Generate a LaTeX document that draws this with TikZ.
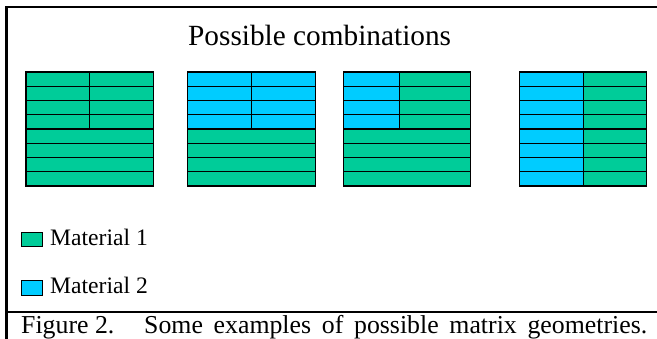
\documentclass[tikz,border=0pt]{standalone}
\usepackage{fontspec}
\setmainfont{Liberation Serif}
\usetikzlibrary{positioning}
\definecolor{matone}{RGB}{0,204,153}
\definecolor{mattwo}{RGB}{0,204,255}
\newcommand{\titlesize}{\fontsize{29.3}{34}\selectfont}
\newcommand{\textsize}{\fontsize{23.6}{28}\selectfont}
\newcommand{\capsize}{\fontsize{25.8}{30}\selectfont}

\begin{document}
\begin{tikzpicture}[x=1pt,y=-1pt,
	cell/.style={draw=black,line width=1.1pt},
	frame/.style={line width=2.2pt},
	every node/.style={inner sep=0pt}]
			\useasboundingbox (0,0) rectangle (657,339);
			\draw [frame] (657,7) -- (6.5,7) -- (6.5,339);
			\draw [frame] (6.5,311.7) -- (657,311.7);
			\node (title) [anchor=base west,font=\titlesize] at (188,46) {Possible combinations};
			\foreach \t in {72,86.25,100.5,114.75} {
				\draw [cell,fill=matone] (26,\t) rectangle ++(63.3,14.25);
				\draw [cell,fill=matone] (89.3,\t) rectangle ++(64.4,14.25);
				\draw [cell,fill=mattwo] (187.7,\t) rectangle ++(64,14.25);
				\draw [cell,fill=mattwo] (251.7,\t) rectangle ++(64,14.25);
				\draw [cell,fill=mattwo] (343.3,\t) rectangle ++(56,14.25);
				\draw [cell,fill=matone] (399.3,\t) rectangle ++(71.4,14.25);
			}
			\foreach \t in {129,143.25,157.5,171.75} {
				\draw [cell,fill=matone] (26,\t) rectangle ++(127.7,14.25);
				\draw [cell,fill=matone] (187.7,\t) rectangle ++(128,14.25);
				\draw [cell,fill=matone] (343.3,\t) rectangle ++(127.4,14.25);
			}
			\foreach \t in {72,86.25,100.5,114.75,129,143.25,157.5,171.75} {
				\draw [cell,fill=mattwo] (519.3,\t) rectangle ++(64,14.25);
				\draw [cell,fill=matone] (583.3,\t) rectangle ++(63.4,14.25);
			}
			\node (swone) [cell,fill=matone,anchor=north west,minimum width=21.6pt,minimum height=14pt] at (20.7,231.7) {};
			\node (swtwo) [cell,fill=mattwo,anchor=north west,minimum width=21.6pt,minimum height=15pt] at (20.7,280) {};
			\node (labone) [anchor=base west,font=\textsize] at (50,245.7) {Material 1};
			\node (labtwo) [anchor=base west,font=\textsize] at (50,294) {Material 2};
			\node (fignum) [anchor=base west,font=\capsize] at (21,333.3) {Figure 2.};
			\node (caption) [anchor=base west,font=\capsize] at (144,333.3) {\makebox[503pt][s]{Some examples of possible matrix geometries.}};
\end{tikzpicture}
\end{document}
